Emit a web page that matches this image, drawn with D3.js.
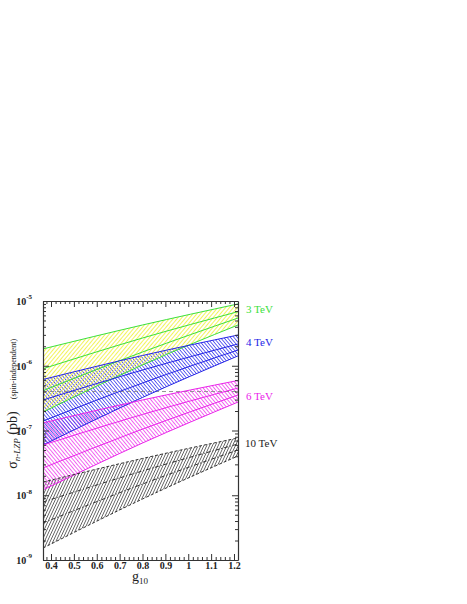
<!DOCTYPE html>
<html lang="en">
  <head>
    <meta charset="UTF-8">
    <title>LZP cross section</title>
    <script src="https://d3js.org/d3.v7.min.js"></script>
    <style>
      body { margin: 0; background: #fff; }
      text { font-family: "Liberation Serif", "DejaVu Serif", serif; }
    </style>
  </head>
  <body>

<script>
  // g10 values where the curves were read
  const gVals = [0.365, 0.8, 1.2175];

  // sigma (pb) for each mass: top edge, two inner curves, bottom edge
  const tev3  = [[1.82e-6, 4.26e-6, 9.0e-6], [9.0e-7, 2.68e-6, 6.84e-6], [4.12e-7, 1.63e-6, 5.46e-6], [1.93e-7, 1.03e-6, 4.26e-6]];
  const tev4  = [[6.14e-7, 1.44e-6, 2.98e-6], [2.96e-7, 8.59e-7, 2.17e-6], [1.40e-7, 5.42e-7, 1.75e-6], [5.97e-8, 3.24e-7, 1.42e-6]];
  const tev6  = [[1.31e-7, 2.96e-7, 5.92e-7], [5.97e-8, 1.77e-7, 4.53e-7], [2.64e-8, 1.05e-7, 3.53e-7], [1.21e-8, 6.41e-8, 2.75e-7]];
  const tev10 = [[1.60e-8, 3.70e-8, 7.66e-8], [7.87e-9, 2.37e-8, 6.19e-8], [3.73e-9, 1.49e-8, 5.00e-8], [1.53e-9, 8.75e-9, 4.04e-8]];

  const massLabels = ["3 TeV", "4 TeV", "6 TeV", "10 TeV"];
  const refLine = 4.0e-7;

  const xTicks = [0.4, 0.5, 0.6, 0.7, 0.8, 0.9, 1, 1.1, 1.2];
  const yTicks = [1e-9, 1e-8, 1e-7, 1e-6, 1e-5];

  const w = 467, h = 604;
  const pLeft = 43, pRight = 238, pTop = 301, pBottom = 560;

  const xScale = d3.scaleLinear().domain([0.365, 1.2175]).range([pLeft, pRight]);
  const yScale = d3.scaleLog().domain([1e-9, 1e-5]).range([pBottom, pTop]);

  const svg = d3.select("body").append("svg")
                .attr("width", w).attr("height", h);

  const defs = svg.append("defs");
  defs.append("clipPath").attr("id", "plot")
      .append("rect").attr("x", pLeft).attr("y", pTop)
      .attr("width", pRight - pLeft).attr("height", pBottom - pTop);

  function hatch(id, color, gap, angle, sw) {
    const p = defs.append("pattern").attr("id", id)
      .attr("patternUnits", "userSpaceOnUse")
      .attr("width", gap).attr("height", 10)
      .attr("patternTransform", `rotate(${angle})`);
    p.append("line").attr("x1", gap / 2).attr("x2", gap / 2)
      .attr("y1", 0).attr("y2", 10)
      .attr("stroke", color).attr("stroke-width", sw);
  }
  hatch("h3", "#f2f24a", 3, 40, 0.9);
  hatch("h4", "#5050f0", 2.6, -40, 0.9);
  hatch("h6", "#f050f0", 2.8, -40, 0.9);
  hatch("h10", "#606060", 2.6, 25, 0.9);

  const bands = [
    { data: tev3,  color: "#3be03b", fill: "url(#h3)",  edge: null, mid: null },
    { data: tev4,  color: "#2424e6", fill: "url(#h4)",  edge: null, mid: null },
    { data: tev6,  color: "#ea22ea", fill: "url(#h6)",  edge: null, mid: null },
    { data: tev10, color: "#333333", fill: "url(#h10)", edge: "3,2", mid: "4,2,1,2" }
  ];
  const labelColors = ["#3be03b", "#2424e6", "#ea22ea", "#222222"];

  const plot = svg.append("g").attr("clip-path", "url(#plot)");

  const line = d3.line()
    .x((d, i) => xScale(gVals[i]))
    .y(d => yScale(d))
    .curve(d3.curveNatural);

  const area = d3.area()
    .x((d, i) => xScale(gVals[i]))
    .y0(d => yScale(d[1]))
    .y1(d => yScale(d[0]))
    .curve(d3.curveNatural);

  // fills first, drawn bottom band up
  bands.slice().reverse().forEach(b => {
    const pairs = gVals.map((g, i) => [b.data[0][i], b.data[3][i]]);
    plot.append("path").attr("d", area(pairs)).attr("fill", b.fill);
  });

  plot.append("line")
      .attr("x1", pLeft).attr("x2", pRight)
      .attr("y1", yScale(refLine)).attr("y2", yScale(refLine))
      .attr("stroke", "#888").attr("stroke-width", 0.9)
      .attr("stroke-dasharray", "4,3");

  bands.forEach(b => {
    b.data.forEach((s, k) => {
      plot.append("path").attr("d", line(s))
        .attr("fill", "none").attr("stroke", b.color).attr("stroke-width", 1)
        .attr("stroke-dasharray", (k === 0 || k === 3) ? b.edge : b.mid);
    });
  });

  // axes, ticks point inward
  const xMinor = d3.range(0.38, 1.22, 0.02).filter(v => Math.abs(v * 10 - Math.round(v * 10)) > 1e-6);
  const yMinor = [];
  for (let e = -9; e < -5; e++) for (let m = 2; m < 10; m++) yMinor.push(m * Math.pow(10, e));

  const axisStyle = g => {
    g.select(".domain").attr("stroke", "#333").attr("stroke-width", 1.2);
    g.selectAll(".tick line").attr("stroke", "#333");
  };

  svg.append("g").attr("transform", `translate(0,${pBottom})`)
     .call(d3.axisBottom(xScale).tickValues(xTicks).tickSizeInner(-6).tickSizeOuter(0).tickPadding(2)
       .tickFormat(d3.format("")))
     .call(axisStyle)
     .call(g => g.selectAll(".tick text").attr("font-size", 10).attr("font-weight", "bold")
       .attr("fill", "#222").attr("font-family", "Liberation Serif"));
  svg.append("g").attr("transform", `translate(0,${pBottom})`)
     .call(d3.axisBottom(xScale).tickValues(xMinor).tickSizeInner(-3).tickSizeOuter(0).tickFormat(""))
     .call(axisStyle).call(g => g.select(".domain").remove());

  svg.append("g").attr("transform", `translate(0,${pTop})`)
     .call(d3.axisTop(xScale).tickValues(xTicks).tickSizeInner(-6).tickSizeOuter(0).tickFormat(""))
     .call(axisStyle);
  svg.append("g").attr("transform", `translate(0,${pTop})`)
     .call(d3.axisTop(xScale).tickValues(xMinor).tickSizeInner(-3).tickSizeOuter(0).tickFormat(""))
     .call(axisStyle).call(g => g.select(".domain").remove());

  svg.append("g").attr("transform", `translate(${pLeft},0)`)
     .call(d3.axisLeft(yScale).tickValues(yTicks).tickSizeInner(-6).tickSizeOuter(0)
       .tickFormat(""))
     .call(axisStyle)
     .call(g => g.selectAll(".tick").append("text")
       .attr("x", -11).attr("dy", "0.35em").attr("text-anchor", "end")
       .attr("font-size", 10).attr("font-weight", "bold").attr("fill", "#222")
       .text("10")
       .append("tspan").attr("dy", "-0.8em").attr("font-size", 7).text(d => Math.round(Math.log10(d))));
  svg.append("g").attr("transform", `translate(${pLeft},0)`)
     .call(d3.axisLeft(yScale).tickValues(yMinor).tickSizeInner(-3).tickSizeOuter(0).tickFormat(""))
     .call(axisStyle).call(g => g.select(".domain").remove());

  svg.append("g").attr("transform", `translate(${pRight},0)`)
     .call(d3.axisRight(yScale).tickValues(yTicks).tickSizeInner(-6).tickSizeOuter(0).tickFormat(""))
     .call(axisStyle);
  svg.append("g").attr("transform", `translate(${pRight},0)`)
     .call(d3.axisRight(yScale).tickValues(yMinor).tickSizeInner(-3).tickSizeOuter(0).tickFormat(""))
     .call(axisStyle).call(g => g.select(".domain").remove());

  // x title
  const xt = svg.append("text").attr("x", 140).attr("y", 581)
     .attr("text-anchor", "middle").attr("font-size", 14).attr("fill", "#222").text("g");
  xt.append("tspan").attr("dy", 3).attr("font-size", 9).text("10");

  // y title
  const yt = svg.append("text").attr("transform", "translate(17,440) rotate(-90)")
     .attr("text-anchor", "middle").attr("font-size", 14).attr("fill", "#222").text("σ");
  yt.append("tspan").attr("dy", 3).attr("font-size", 9).attr("font-style", "italic").text("n-LZP");
  yt.append("tspan").attr("dy", -3).text(" (pb)");
  svg.append("text").attr("transform", "translate(16,369) rotate(-90)")
     .attr("text-anchor", "middle").attr("font-size", 8).attr("fill", "#222").text("(spin-independent)");

  // mass labels at the right end of each band
  svg.selectAll(".mass").data(massLabels).enter().append("text")
     .attr("class", "mass")
     .attr("x", (d, i) => i === 3 ? 245 : 246)
     .attr("y", (d, i) => [313, 346, 400, 447][i])
     .attr("font-size", 11).attr("fill", (d, i) => labelColors[i])
     .text(d => d);
</script>

  </body>
</html>
